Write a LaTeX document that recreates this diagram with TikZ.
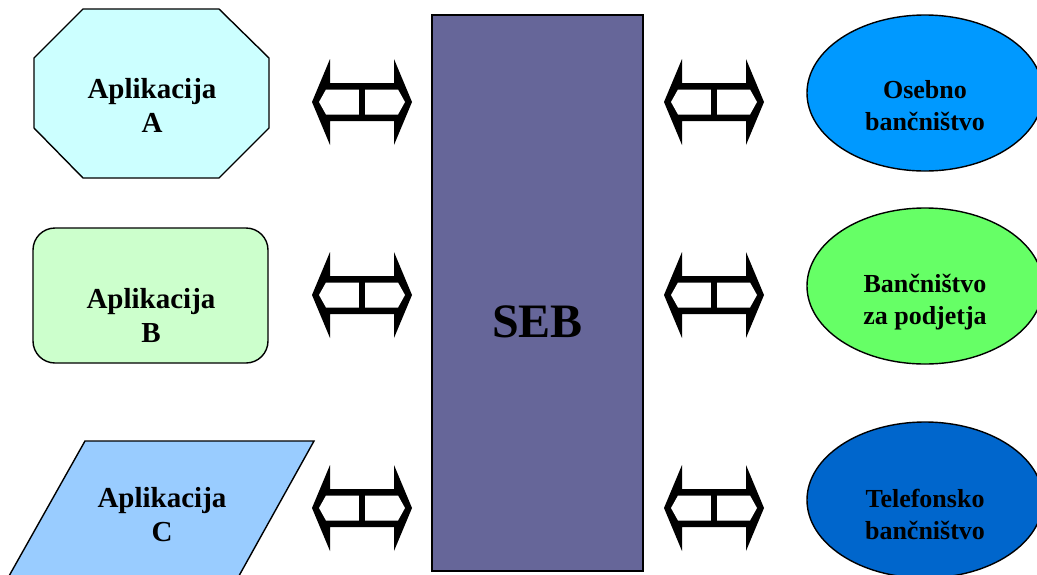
\documentclass[tikz,border=0pt]{standalone}
\usepackage{fontspec}
\setmainfont{Liberation Serif}
\definecolor{appA}{HTML}{CCFFFF}
\definecolor{appB}{HTML}{CCFFCC}
\definecolor{appC}{HTML}{99CCFF}
\definecolor{sebc}{HTML}{666699}
\definecolor{osc}{HTML}{0099FF}
\definecolor{podc}{HTML}{66FF66}
\definecolor{telc}{HTML}{0066CC}
\newcommand{\dblarr}[2]{%
  \begin{scope}[shift={(#1,#2)}]
    \fill[black] (-50,0) -- (-32,-43) -- (-32,-19) -- (32,-19) -- (32,-43) -- (50,0)
      -- (32,43) -- (32,19) -- (-32,19) -- (-32,43) -- cycle;
    \fill[white] (-43,0) -- (-36,-12.5) -- (36,-12.5) -- (43,0) -- (36,12.5) -- (-36,12.5) -- cycle;
    \draw[line width=5.5pt] (0,-13) -- (0,13);
  \end{scope}}
\tikzset{
  shapeline/.style={draw=black, line width=1.4pt},
  applabel/.style={font=\bfseries\fontsize{29}{34}\selectfont, align=center, inner sep=0pt},
  banklabel/.style={font=\bfseries\fontsize{26}{32}\selectfont, align=center, inner sep=0pt}
}
\begin{document}
\begin{tikzpicture}[x=1pt,y=-1pt]
\useasboundingbox (0,0) rectangle (1037,574);
\clip (0,0) rectangle (1037,574);
% Applications
\filldraw[shapeline, fill=appA] (83,9) -- (219,9) -- (269,58) -- (269,128) -- (219,178)
  -- (83,178) -- (34,128) -- (34,58) -- cycle;
\node[applabel] (la) at (152,105) {Aplikacija\\A};
\filldraw[shapeline, fill=appB, rounded corners=22pt] (33,228) rectangle (268,363);
\node[applabel] (lb) at (151,315) {Aplikacija\\B};
\filldraw[shapeline, fill=appC] (85,441) -- (314,441) -- (230,592) -- (0,592) -- cycle;
\node[applabel] (lc) at (162,515) {Aplikacija\\C};
% SEB
\filldraw[draw=black, line width=2.5pt, fill=sebc] (432,15) rectangle (643,571);
\node[font=\bfseries\fontsize{48}{50}\selectfont, inner sep=0pt] (seb) at (537.5,322) {SEB};
% Banking ellipses
\filldraw[shapeline, fill=osc] (925,93) ellipse [x radius=118pt, y radius=78pt];
\node[banklabel] (los) at (925,106) {Osebno\\bančništvo};
\filldraw[shapeline, fill=podc] (925,286) ellipse [x radius=118pt, y radius=78pt];
\node[banklabel] (lpod) at (925,302) {Bančništvo\\za podjetja};
\filldraw[shapeline, fill=telc] (925,500) ellipse [x radius=118pt, y radius=78pt];
\node[banklabel] (ltel) at (925,514) {Telefonsko\\bančništvo};
% Double arrows
\dblarr{362}{102}
\dblarr{362}{295}
\dblarr{362}{508}
\dblarr{714}{102}
\dblarr{714}{295}
\dblarr{714}{508}
\end{tikzpicture}
\end{document}
